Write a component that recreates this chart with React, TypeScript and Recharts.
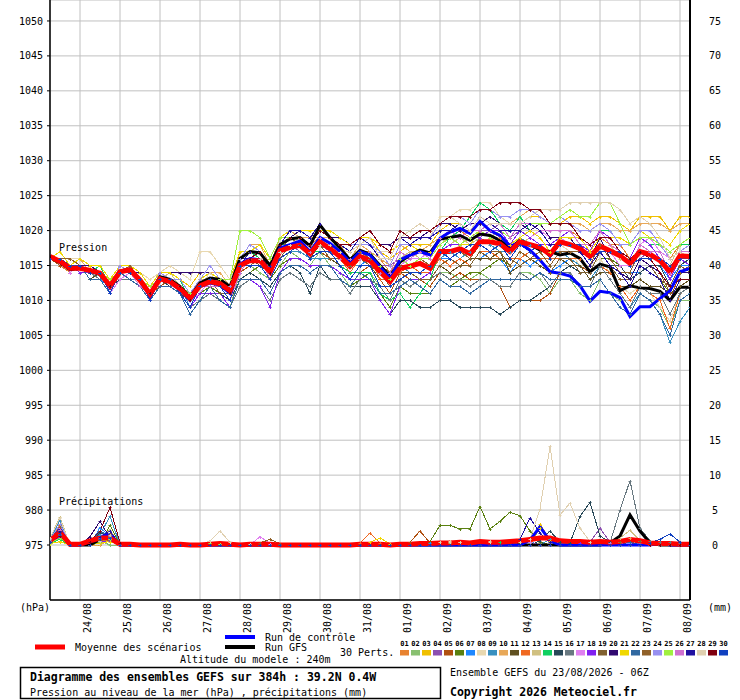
import { CartesianGrid, ComposedChart, Line, XAxis, YAxis } from 'recharts';

const FONT = '"DejaVu Sans Mono", monospace';

// 6-hourly steps from 23/08 06Z, in hours
const STEPS = [
  0, 6, 12, 18, 24, 30, 36, 42, 48, 54, 60, 66, 72, 78, 84, 90, 96, 102, 108, 114, 120, 126,
  132, 138, 144, 150, 156, 162, 168, 174, 180, 186, 192, 198, 204, 210, 216, 222, 228, 234,
  240, 246, 252, 258, 264, 270, 276, 282, 288, 294, 300, 306, 312, 318, 324, 330, 336, 342,
  348, 354, 360, 366, 372, 378, 384,
];

const DAY_TICKS = [18, 42, 66, 90, 114, 138, 162, 186, 210, 234, 258, 282, 306, 330, 354, 378];
const DAY_LABELS = [
  '24/08', '25/08', '26/08', '27/08', '28/08', '29/08', '30/08', '31/08',
  '01/09', '02/09', '03/09', '04/09', '05/09', '06/09', '07/09', '08/09',
];

const HPA_TICKS = [975, 980, 985, 990, 995, 1000, 1005, 1010, 1015, 1020, 1025, 1030, 1035, 1040, 1045, 1050];
const MM_TICKS = [0, 5, 10, 15, 20, 25, 30, 35, 40, 45, 50, 55, 60, 65, 70, 75];

// Pressure (hPa)
const P_MEAN = [
  1016.3, 1015.6, 1014.6, 1014.6, 1014.3, 1013.9, 1012.1, 1014.1, 1014.4, 1012.9, 1010.9, 1013.1, 1012.7,
  1011.7, 1010.3, 1012.1, 1012.7, 1012.4, 1011.4, 1015.0, 1015.7, 1015.7, 1014.1, 1017.1, 1017.6, 1017.9,
  1016.7, 1018.4, 1017.4, 1016.3, 1014.9, 1016.3, 1015.7, 1014.1, 1012.7, 1014.6, 1014.9, 1015.3, 1014.6,
  1017.0, 1017.0, 1017.4, 1016.7, 1018.4, 1018.4, 1018.1, 1017.0, 1018.4, 1018.0, 1017.6, 1016.6, 1018.4,
  1018.0, 1017.4, 1016.3, 1017.8, 1017.1, 1016.4, 1015.3, 1017.0, 1016.6, 1015.7, 1014.1, 1016.4, 1016.3,
];
const P_CTRL = [
  1016.3, 1015.5, 1014.5, 1014.8, 1014.2, 1013.8, 1011.8, 1014.0, 1014.5, 1012.8, 1010.6, 1013.2, 1012.6,
  1011.5, 1010.0, 1012.0, 1012.5, 1012.2, 1011.0, 1015.2, 1016.0, 1015.8, 1014.3, 1017.5, 1018.0, 1018.5,
  1017.0, 1019.0, 1018.2, 1017.0, 1015.5, 1017.0, 1016.5, 1014.8, 1013.2, 1015.8, 1016.5, 1017.0, 1016.5,
  1018.9, 1019.8, 1020.3, 1019.6, 1021.3, 1020.0, 1019.3, 1017.8, 1018.2, 1017.2, 1015.8, 1014.1, 1013.9,
  1013.5, 1012.1, 1009.9, 1011.3, 1011.1, 1010.4, 1007.7, 1009.1, 1009.1, 1010.3, 1011.4, 1014.1, 1014.6,
];
const P_GFS = [
  1016.2, 1015.4, 1014.4, 1014.6, 1014.2, 1013.7, 1011.9, 1014.2, 1014.5, 1013.0, 1011.0, 1013.4, 1013.0,
  1012.0, 1010.5, 1012.5, 1013.2, 1013.0, 1012.0, 1016.0, 1017.0, 1016.8, 1015.0, 1018.0, 1018.8, 1019.0,
  1017.8, 1020.8, 1019.0, 1017.5, 1015.8, 1017.2, 1016.6, 1015.0, 1013.5, 1015.5, 1016.5, 1017.2, 1016.8,
  1018.8, 1019.0, 1019.3, 1018.6, 1019.5, 1019.3, 1018.6, 1017.5, 1018.6, 1018.0, 1017.2, 1017.0, 1016.5,
  1016.8, 1016.0, 1014.1, 1015.2, 1014.8, 1011.4, 1012.1, 1011.8, 1011.7, 1011.3, 1010.0, 1011.9, 1011.9,
];

const P01 = [1016,1015,1014,1015,1014,1014,1012,1015,1015,1013,1011,1013,1013, 1012,1010,1013,1014,1013,1012,1016,1017,1017,1015,1018,1019,1019, 1018,1019,1018,1017,1016,1017,1017,1016,1014,1016,1017,1017,1016, 1019,1019,1020,1019,1020,1020,1019,1018,1020,1019,1020,1018,1019, 1020,1019,1017,1019,1018,1018,1016,1019,1019,1018,1016,1018,1019];
const P02 = [1016,1016,1015,1014,1014,1013,1011,1014,1013,1012,1010,1012,1012, 1011,1009,1011,1012,1011,1009,1014,1015,1014,1013,1015,1017,1016, 1015,1017,1015,1014,1012,1014,1014,1012,1012,1013,1012,1013,1013, 1014,1014,1013,1013,1014,1013,1012,1012,1014,1014,1013,1011,1013, 1013,1011,1010,1013,1011,1010,1008,1011,1010,1009,1006,1010,1010];
const P03 = [1016,1016,1016,1015,1015,1015,1013,1015,1014,1014,1012,1013,1014, 1013,1012,1014,1014,1013,1013,1017,1017,1018,1016,1019,1019,1020, 1019,1021,1019,1019,1018,1018,1019,1017,1016,1017,1018,1018,1018, 1020,1021,1021,1020,1021,1022,1021,1021,1021,1022,1022,1021,1021, 1022,1022,1021,1022,1022,1021,1020,1022,1022,1022,1020,1022,1022];
const P04 = [1016,1016,1014,1015,1014,1014,1011,1014,1014,1012,1010,1013,1013, 1011,1009,1012,1013,1011,1010,1015,1016,1016,1013,1017,1018,1017, 1016,1018,1017,1017,1016,1017,1016,1015,1015,1016,1016,1017,1017, 1018,1019,1019,1020,1020,1020,1021,1019,1020,1019,1018,1018,1018, 1017,1017,1017,1017,1017,1015,1013,1016,1017,1017,1016,1017,1016];
const P05 = [1016,1015,1015,1015,1014,1014,1012,1013,1014,1013,1011,1012,1013, 1012,1011,1012,1012,1012,1011,1014,1015,1016,1014,1016,1017,1018, 1017,1017,1016,1016,1014,1014,1015,1013,1011,1014,1013,1013,1012, 1014,1013,1014,1013,1013,1013,1012,1009,1010,1010,1010,1011,1014, 1015,1015,1014,1017,1015,1013,1013,1016,1015,1013,1010,1014,1015];
const P06 = [1016,1016,1015,1015,1013,1014,1012,1014,1013,1013,1011,1013,1012, 1011,1010,1011,1012,1011,1010,1013,1014,1015,1013,1015,1016,1016, 1015,1015,1015,1013,1012,1013,1014,1011,1009,1012,1011,1011,1011, 1013,1012,1013,1014,1014,1015,1016,1015,1017,1016,1017,1015,1017, 1017,1017,1015,1016,1016,1015,1015,1016,1015,1013,1011,1014,1014];
const P07 = [1016,1016,1015,1015,1014,1013,1012,1014,1014,1013,1012,1013,1013, 1012,1010,1012,1014,1012,1011,1014,1016,1016,1014,1018,1018,1018, 1017,1018,1018,1016,1015,1015,1016,1014,1014,1015,1015,1016,1015, 1016,1016,1015,1016,1016,1017,1016,1014,1016,1015,1016,1014,1015, 1016,1016,1014,1017,1015,1014,1014,1014,1015,1015,1013,1015,1015];
const P08 = [1016,1016,1016,1016,1015,1015,1013,1015,1015,1014,1013,1014,1015, 1014,1013,1017,1017,1015,1013,1016,1017,1016,1015,1017,1018,1018, 1017,1017,1017,1017,1016,1018,1018,1017,1017,1018,1018,1019,1019, 1022,1022,1023,1023,1024,1024,1022,1021,1021,1020,1020,1018,1018, 1017,1015,1015,1016,1014,1012,1011,1012,1011,1009,1007,1011,1012];
const P09 = [1016,1016,1015,1014,1014,1014,1012,1014,1013,1013,1010,1013,1013, 1012,1009,1012,1013,1011,1010,1015,1015,1015,1014,1016,1017,1017, 1016,1016,1016,1015,1015,1015,1015,1014,1012,1015,1014,1014,1015, 1016,1017,1016,1017,1019,1018,1017,1017,1019,1018,1017,1017,1017, 1016,1015,1013,1015,1013,1011,1009,1011,1010,1008,1004,1007,1009];
const P10 = [1016,1016,1015,1016,1014,1015,1013,1015,1015,1013,1012,1014,1013, 1013,1011,1013,1014,1014,1012,1016,1018,1018,1015,1019,1020,1019, 1019,1019,1019,1018,1016,1018,1017,1016,1015,1018,1017,1017,1018, 1019,1020,1020,1020,1020,1021,1021,1021,1022,1023,1022,1021,1022, 1021,1021,1020,1021,1021,1020,1020,1021,1021,1021,1020,1021,1021];
const P11 = [1016,1016,1015,1015,1013,1014,1012,1014,1014,1012,1011,1013,1013, 1011,1010,1012,1013,1012,1010,1015,1016,1015,1014,1016,1017,1018, 1016,1018,1016,1015,1014,1016,1015,1013,1013,1014,1014,1013,1013, 1015,1014,1015,1016,1016,1016,1017,1014,1015,1016,1015,1014,1016, 1015,1015,1013,1014,1014,1012,1012,1013,1012,1012,1011,1012,1013];
const P12 = [1016,1016,1015,1015,1014,1014,1013,1014,1014,1013,1011,1014,1013, 1012,1011,1012,1013,1013,1012,1015,1017,1016,1015,1017,1018,1019, 1018,1018,1018,1016,1014,1016,1016,1013,1013,1014,1015,1014,1014, 1016,1015,1016,1015,1017,1017,1016,1016,1016,1017,1016,1016,1016, 1016,1016,1014,1015,1014,1012,1010,1012,1011,1010,1006,1011,1012];
const P13 = [1016,1016,1015,1015,1014,1014,1012,1014,1015,1013,1011,1013,1014, 1012,1010,1013,1013,1012,1011,1016,1016,1017,1014,1018,1018,1019, 1017,1019,1017,1016,1016,1016,1017,1015,1013,1016,1017,1016,1016, 1019,1018,1019,1018,1019,1020,1020,1018,1018,1019,1020,1019,1019, 1019,1019,1017,1020,1018,1016,1016,1019,1018,1016,1015,1018,1018];
const P14 = [1016,1016,1015,1015,1014,1015,1012,1014,1014,1013,1011,1013,1013, 1013,1010,1012,1013,1013,1011,1015,1017,1016,1014,1018,1018,1018, 1017,1017,1017,1015,1014,1014,1014,1011,1010,1011,1009,1011,1013, 1017,1019,1020,1022,1024,1023,1021,1020,1022,1020,1021,1019,1019, 1020,1018,1017,1020,1020,1018,1018,1019,1018,1018,1017,1018,1018];
const P15 = [1016,1016,1015,1015,1014,1014,1012,1013,1014,1013,1010,1013,1012, 1011,1009,1011,1011,1011,1010,1013,1014,1013,1012,1014,1015,1014, 1011,1015,1013,1013,1012,1012,1012,1010,1008,1010,1010,1009,1009, 1010,1010,1009,1009,1009,1009,1008,1009,1010,1010,1011,1012,1014, 1015,1014,1014,1015,1015,1015,1013,1014,1015,1015,1012,1015,1016];
const P16 = [1016,1016,1015,1015,1014,1013,1011,1013,1013,1012,1010,1012,1012, 1011,1009,1010,1011,1010,1009,1012,1013,1012,1010,1013,1014,1013, 1012,1014,1013,1013,1011,1013,1013,1012,1010,1013,1012,1013,1013, 1014,1013,1013,1012,1013,1013,1012,1012,1014,1013,1014,1012,1014, 1014,1012,1012,1015,1013,1011,1009,1012,1011,1011,1008,1011,1012];
const P17 = [1016,1016,1014,1015,1014,1014,1011,1013,1014,1013,1010,1013,1013, 1012,1010,1011,1013,1012,1010,1015,1016,1016,1013,1017,1019,1018, 1018,1018,1018,1017,1015,1017,1016,1015,1014,1015,1016,1016,1017, 1018,1019,1018,1019,1020,1019,1020,1018,1020,1019,1020,1019,1019, 1018,1018,1016,1017,1017,1015,1015,1018,1019,1017,1016,1017,1016];
const P18 = [1016,1016,1015,1014,1014,1014,1011,1014,1014,1012,1010,1012,1012, 1011,1009,1011,1011,1011,1009,1013,1013,1012,1009,1014,1016,1016, 1015,1015,1015,1014,1013,1013,1013,1010,1008,1012,1013,1013,1014, 1017,1018,1018,1019,1019,1020,1020,1018,1020,1019,1018,1018,1019, 1020,1018,1017,1020,1019,1017,1016,1019,1018,1016,1013,1016,1015];
const P19 = [1016,1016,1015,1015,1014,1014,1012,1014,1014,1013,1011,1013,1013, 1012,1010,1012,1013,1011,1011,1015,1015,1016,1014,1016,1018,1018, 1017,1018,1016,1016,1015,1016,1015,1014,1012,1013,1014,1013,1013, 1015,1016,1015,1015,1017,1016,1016,1016,1015,1016,1016,1014,1016, 1016,1014,1014,1017,1015,1013,1013,1016,1015,1013,1012,1015,1014];
const P20 = [1016,1016,1015,1015,1015,1014,1013,1014,1014,1014,1012,1014,1014, 1014,1014,1014,1014,1013,1012,1016,1016,1016,1015,1018,1019,1020, 1019,1020,1019,1019,1018,1019,1020,1018,1018,1019,1019,1019,1020, 1021,1021,1020,1021,1021,1022,1021,1019,1021,1020,1021,1019,1019, 1019,1017,1016,1019,1016,1014,1013,1016,1015,1014,1011,1014,1014];
const P21 = [1016,1017,1015,1016,1015,1015,1013,1015,1015,1014,1012,1014,1014, 1013,1011,1013,1014,1013,1012,1017,1017,1018,1016,1019,1020,1020, 1020,1020,1020,1019,1018,1019,1019,1018,1017,1018,1018,1017,1017, 1018,1019,1018,1018,1020,1019,1018,1018,1019,1020,1019,1017,1019, 1019,1019,1017,1019,1019,1019,1018,1020,1019,1019,1018,1020,1021];
const P22 = [1016,1016,1015,1015,1013,1013,1011,1014,1013,1012,1010,1012,1012, 1011,1008,1010,1012,1010,1009,1013,1013,1013,1011,1014,1015,1015, 1014,1015,1015,1013,1012,1014,1013,1011,1011,1012,1013,1012,1011, 1013,1012,1012,1011,1012,1013,1013,1013,1013,1013,1014,1013,1013, 1013,1012,1012,1013,1011,1009,1008,1011,1010,1008,1005,1010,1011];
const P23 = [1016,1016,1016,1015,1014,1014,1012,1014,1015,1013,1011,1013,1013, 1012,1011,1012,1013,1012,1012,1015,1016,1017,1014,1017,1019,1018, 1017,1018,1018,1016,1016,1017,1016,1015,1014,1015,1015,1016,1015, 1017,1016,1017,1016,1018,1017,1017,1015,1017,1016,1017,1015,1017, 1017,1017,1015,1018,1016,1014,1014,1017,1016,1014,1011,1014,1015];
const P24 = [1016,1016,1015,1015,1014,1014,1012,1015,1014,1013,1011,1014,1013, 1013,1011,1013,1015,1013,1012,1016,1018,1017,1015,1018,1020,1020, 1019,1021,1019,1018,1018,1018,1018,1017,1015,1018,1018,1019,1019, 1021,1022,1022,1021,1023,1023,1022,1022,1023,1023,1022,1021,1022, 1021,1020,1020,1021,1020,1018,1018,1020,1020,1018,1016,1017,1018];
const P25 = [1016,1016,1015,1015,1014,1014,1013,1014,1014,1013,1012,1013,1013, 1012,1011,1012,1013,1013,1013,1020,1020,1019,1016,1019,1019,1019, 1018,1020,1019,1017,1016,1016,1017,1015,1013,1016,1015,1016,1016, 1018,1019,1018,1019,1020,1019,1020,1019,1021,1021,1021,1021,1022, 1023,1022,1022,1024,1024,1021,1018,1019,1019,1018,1017,1018,1019];
const P26 = [1016,1016,1015,1015,1014,1014,1012,1014,1014,1012,1011,1013,1013, 1011,1009,1012,1012,1012,1010,1014,1016,1016,1013,1017,1018,1018, 1017,1019,1017,1016,1016,1016,1017,1014,1014,1017,1016,1017,1016, 1019,1020,1019,1020,1020,1021,1021,1019,1021,1021,1020,1020,1020, 1020,1018,1018,1020,1018,1017,1015,1018,1017,1017,1014,1017,1017];
const P27 = [1016,1016,1015,1015,1014,1014,1012,1014,1014,1013,1011,1013,1013, 1012,1010,1012,1013,1012,1011,1015,1017,1017,1015,1018,1020,1020, 1019,1021,1019,1018,1017,1019,1018,1016,1016,1019,1018,1019,1019, 1020,1020,1021,1020,1022,1021,1020,1020,1020,1021,1020,1018,1018, 1018,1017,1015,1017,1015,1014,1012,1015,1014,1013,1010,1013,1013];
const P28 = [1016,1016,1015,1015,1014,1014,1012,1014,1014,1013,1011,1013,1013, 1012,1010,1012,1014,1012,1011,1015,1016,1016,1014,1017,1018,1019, 1018,1018,1018,1017,1017,1018,1019,1016,1016,1019,1020,1021,1020, 1021,1022,1021,1020,1022,1021,1021,1021,1021,1022,1023,1023,1023, 1024,1024,1024,1024,1024,1023,1021,1022,1021,1019,1016,1017,1016];
const P29 = [1016,1016,1015,1015,1014,1014,1012,1014,1014,1013,1011,1013,1013, 1012,1010,1012,1013,1012,1011,1015,1016,1017,1014,1018,1019,1019, 1018,1020,1019,1018,1018,1019,1020,1018,1017,1020,1019,1020,1020, 1021,1022,1022,1022,1023,1023,1024,1024,1024,1023,1023,1021,1021, 1021,1019,1018,1019,1019,1017,1016,1017,1016,1014,1012,1013,1013];
const P30 = [1016,1016,1015,1015,1014,1014,1011,1014,1014,1013,1010,1013,1013, 1011,1009,1012,1013,1012,1010,1015,1015,1015,1013,1016,1017,1018, 1016,1017,1017,1015,1013,1015,1015,1012,1012,1013,1014,1014,1015, 1017,1016,1017,1018,1018,1017,1018,1016,1018,1017,1018,1016,1018, 1018,1018,1016,1017,1017,1017,1015,1016,1016,1016,1015,1016,1016];

// Precipitation (mm per 6h): mean as a full series
const R_MEAN = [
  0.6, 1.8, 0.1, 0.1, 0.6, 1.0, 1.0, 0.1, 0.1, 0.0, 0.0, 0.0, 0.0,
  0.1, 0.0, 0.0, 0.1, 0.2, 0.1, 0.0, 0.1, 0.1, 0.1, 0.0, 0.0, 0.0,
  0.0, 0.0, 0.0, 0.0, 0.0, 0.1, 0.1, 0.1, 0.0, 0.1, 0.1, 0.2, 0.2,
  0.3, 0.3, 0.4, 0.3, 0.5, 0.4, 0.4, 0.5, 0.6, 0.8, 1.0, 1.0, 0.6,
  0.5, 0.5, 0.4, 0.5, 0.4, 0.5, 0.8, 0.6, 0.3, 0.2, 0.2, 0.1, 0.1,
];
// members, control and GFS: [step index, mm]; dry steps are 0
const R_CTRL = [[0, 0.5], [1, 2.2], [4, 0.5], [5, 1.2], [6, 1.5], [48, 0.7], [49, 2.6], [50, 0.6], [61, 0.3]];
const R_GFS = [[0, 0.5], [1, 1.8], [5, 0.8], [6, 1.2], [56, 0.3], [57, 1.3], [58, 4.3], [59, 2.0], [60, 0.3]];
const R01 = [[0, 0.6], [1, 2.0], [5, 0.5], [6, 0.8]];
const R02 = [[0, 0.4], [1, 1.5], [5, 0.6], [17, 0.2], [40, 0.3]];
const R03 = [[0, 0.5], [1, 1.0], [6, 1.0], [49, 3.0], [50, 0.8]];
const R04 = [[0, 0.7], [1, 2.5], [4, 0.4], [5, 1.0], [6, 1.2], [54, 0.4], [55, 2.4], [56, 0.4]];
const R05 = [[0, 0.5], [1, 1.8], [5, 0.8], [6, 1.6], [36, 0.4], [37, 2.0], [38, 0.3]];
const R06 = [[0, 0.4], [1, 1.2], [6, 2.9], [38, 0.5], [39, 2.8], [40, 2.8], [41, 2.3], [42, 2.3], [43, 5.5], [44, 2.3], [45, 3.4], [46, 4.7], [47, 4.2], [48, 2.0], [49, 0.5]];
const R07 = [[0, 0.8], [1, 3.0], [5, 2.5], [6, 1.2], [38, 0.3], [48, 0.5]];
const R08 = [[0, 0.5], [1, 2.2], [5, 0.5], [6, 2.0], [40, 0.6], [41, 0.4], [44, 0.4]];
const R09 = [[0, 0.9], [1, 3.5], [5, 1.5], [6, 4.1], [50, 0.8]];
const R10 = [[0, 0.4], [1, 1.6], [6, 0.8], [57, 0.5], [58, 1.0]];
const R11 = [[0, 0.3], [1, 1.0], [5, 0.5], [6, 1.0], [47, 0.3]];
const R12 = [[0, 0.7], [1, 2.8], [5, 0.6], [6, 0.9], [31, 0.3], [32, 1.7], [33, 0.3]];
const R13 = [[0, 1.0], [1, 4.0], [5, 0.8], [6, 2.2], [57, 1.0], [58, 2.1], [59, 0.6]];
const R14 = [[0, 0.3], [1, 0.8], [5, 0.6], [6, 1.5], [16, 0.3], [45, 0.5]];
const R15 = [[0, 0.5], [1, 1.5], [5, 1.8], [6, 1.0], [49, 0.6], [50, 2.0], [51, 0.4], [52, 0.3], [53, 4.1], [54, 6.1], [55, 1.3], [56, 0.4]];
const R16 = [[0, 0.6], [1, 2.0], [5, 0.5], [6, 0.7], [56, 0.3], [57, 5.0], [58, 9.2], [59, 2.4], [60, 0.6], [61, 0.4], [62, 0.4], [63, 0.3]];
const R17 = [[0, 0.6], [1, 2.5], [5, 0.6], [6, 1.0], [21, 1.2], [22, 0.2], [48, 0.4]];
const R18 = [[0, 0.3], [1, 1.2], [5, 0.4], [6, 0.6], [53, 0.3]];
const R19 = [[0, 0.5], [1, 1.8], [5, 0.5], [6, 1.3], [59, 0.6]];
const R20 = [[0, 0.6], [1, 2.0], [4, 1.2], [5, 3.4], [6, 1.0]];
const R21 = [[0, 0.2], [1, 0.5], [5, 0.3], [6, 0.5], [32, 0.4], [33, 1.0], [34, 0.2], [49, 2.4], [50, 0.6]];
const R22 = [[0, 0.4], [1, 1.4], [5, 2.0], [6, 1.2], [58, 0.5]];
const R23 = [[0, 0.7], [1, 2.6], [5, 0.7], [6, 1.1], [21, 0.3], [22, 0.8], [23, 0.2], [57, 0.4]];
const R24 = [[0, 0.8], [1, 3.0], [5, 0.6], [6, 1.0]];
const R25 = [[0, 0.3], [1, 1.0], [5, 0.5], [6, 0.8], [16, 0.3], [17, 0.2]];
const R26 = [[0, 0.6], [1, 2.2], [5, 1.1], [6, 1.3], [56, 0.3]];
const R27 = [[0, 0.5], [1, 1.8], [5, 1.2], [6, 2.0], [47, 0.8], [48, 3.9], [49, 1.7], [50, 0.4]];
const R28 = [[0, 1.0], [1, 3.8], [5, 0.6], [6, 1.4], [16, 0.6], [17, 2.0], [18, 0.4], [20, 0.2], [39, 0.4], [40, 0.5], [41, 0.4], [44, 0.6], [47, 0.4], [48, 0.8], [49, 5.2], [50, 14.1], [51, 4.3], [52, 6.0], [53, 2.4], [54, 0.5]];
const R29 = [[0, 0.4], [1, 1.3], [4, 0.5], [5, 2.0], [6, 5.4], [7, 0.3]];
const R30 = [[0, 0.5], [1, 1.6], [5, 0.9], [6, 1.0], [60, 0.3], [61, 0.8], [62, 1.6], [63, 0.4]];

const MEMBERS = [
  { id: '01', color: '#e8822f', p: P01, r: R01 },
  { id: '02', color: '#88c070', p: P02, r: R02 },
  { id: '03', color: '#f0c000', p: P03, r: R03 },
  { id: '04', color: '#8c50b0', p: P04, r: R04 },
  { id: '05', color: '#b05010', p: P05, r: R05 },
  { id: '06', color: '#5a8010', p: P06, r: R06 },
  { id: '07', color: '#1e88ff', p: P07, r: R07 },
  { id: '08', color: '#e8d8b0', p: P08, r: R08 },
  { id: '09', color: '#3890c0', p: P09, r: R09 },
  { id: '10', color: '#e8a858', p: P10, r: R10 },
  { id: '11', color: '#605020', p: P11, r: R11 },
  { id: '12', color: '#f06820', p: P12, r: R12 },
  { id: '13', color: '#d0c080', p: P13, r: R13 },
  { id: '14', color: '#10d060', p: P14, r: R14 },
  { id: '15', color: '#284858', p: P15, r: R15 },
  { id: '16', color: '#687880', p: P16, r: R16 },
  { id: '17', color: '#e080f0', p: P17, r: R17 },
  { id: '18', color: '#8020f0', p: P18, r: R18 },
  { id: '19', color: '#806030', p: P19, r: R19 },
  { id: '20', color: '#300870', p: P20, r: R20 },
  { id: '21', color: '#f0d800', p: P21, r: R21 },
  { id: '22', color: '#3068a0', p: P22, r: R22 },
  { id: '23', color: '#906028', p: P23, r: R23 },
  { id: '24', color: '#9890f0', p: P24, r: R24 },
  { id: '25', color: '#a0f040', p: P25, r: R25 },
  { id: '26', color: '#d070d0', p: P26, r: R26 },
  { id: '27', color: '#2010a0', p: P27, r: R27 },
  { id: '28', color: '#e0d0b0', p: P28, r: R28 },
  { id: '29', color: '#800010', p: P29, r: R29 },
  { id: '30', color: '#1040c0', p: P30, r: R30 },
];

function rainAt(peaks: number[][], i: number) {
  const hit = peaks.find((pk) => pk[0] === i);
  return hit ? hit[1] : 0;
}

const rows = STEPS.map((t, i) => {
  const row: Record<string, number> = {
    t,
    pMean: P_MEAN[i],
    pCtrl: P_CTRL[i],
    pGfs: P_GFS[i],
    rMean: R_MEAN[i],
    rCtrl: rainAt(R_CTRL, i),
    rGfs: rainAt(R_GFS, i),
  };
  MEMBERS.forEach((m) => {
    row['p' + m.id] = m.p[i];
    row['r' + m.id] = rainAt(m.r, i);
  });
  return row;
});

// small "+" marker used on member curves
const cross = (color: string) => (props: any) => {
  const { cx, cy, index } = props;
  if (cx == null || cy == null) return <g key={index} />;
  return (
    <path
      key={index}
      d={`M${Math.round(cx) - 1.5} ${Math.round(cy) + 0.5}h3M${Math.round(cx) + 0.5} ${Math.round(cy) - 1}v3`}
      stroke={color}
      strokeWidth={1}
      fill="none"
    />
  );
};

const DateTick = (props: any) => {
  const { x, payload } = props;
  const label = DAY_LABELS[DAY_TICKS.indexOf(payload.value)] ?? '';
  const bx = x + 11;
  return (
    <text
      x={bx}
      y={603}
      transform={`rotate(-90 ${bx} 603)`}
      textAnchor="end"
      fontSize={10}
      fontFamily={FONT}
      fill="#000"
    >
      {label}
    </text>
  );
};

const MmTick = (props: any) => {
  const { y, payload } = props;
  return (
    <text x={715} y={y} dy="0.355em" textAnchor="middle" fontSize={10} fontFamily={FONT} fill="#000">
      {payload.value}
    </text>
  );
};

const txt = { fontFamily: FONT, fontSize: 10, fill: '#000' } as const;

export default function App() {
  return (
    <div style={{ position: 'relative', width: 740, height: 700, background: '#fff' }}>
      <style>{'body{margin:0;background:#fff}'}</style>
      <ComposedChart width={740} height={700} data={rows} margin={{ top: 0, right: 0, bottom: 0, left: 0 }}>
        <CartesianGrid yAxisId="p" stroke="#c0c0c0" strokeWidth={1} />
        <XAxis
          dataKey="t"
          type="number"
          domain={[0, 384]}
          ticks={DAY_TICKS}
          height={100}
          tick={<DateTick />}
          tickLine={false}
          axisLine={{ stroke: '#000', strokeWidth: 1.5 }}
          interval={0}
          allowDataOverflow
        />
        <YAxis
          yAxisId="p"
          orientation="left"
          width={50}
          domain={[967.13, 1053.0]}
          ticks={HPA_TICKS}
          interval={0}
          allowDataOverflow
          tickSize={3}
          tickMargin={4}
          tickLine={{ stroke: '#000' }}
          axisLine={{ stroke: '#000', strokeWidth: 1.5 }}
          tick={{ fontSize: 10, fontFamily: FONT, fill: '#000' }}
        />
        <YAxis
          yAxisId="r"
          orientation="right"
          width={50}
          domain={[-7.87, 78.0]}
          ticks={MM_TICKS}
          interval={0}
          allowDataOverflow
          tickLine={false}
          axisLine={{ stroke: '#000', strokeWidth: 2 }}
          tick={<MmTick />}
        />

        {MEMBERS.map((m) => (
          <Line
            key={'r' + m.id}
            yAxisId="r"
            dataKey={'r' + m.id}
            stroke={m.color}
            strokeWidth={1}
            shapeRendering="crispEdges"
            dot={cross(m.color)}
            activeDot={false}
            isAnimationActive={false}
          />
        ))}
        {MEMBERS.map((m) => (
          <Line
            key={'p' + m.id}
            yAxisId="p"
            dataKey={'p' + m.id}
            stroke={m.color}
            strokeWidth={1}
            shapeRendering="crispEdges"
            dot={cross(m.color)}
            activeDot={false}
            isAnimationActive={false}
          />
        ))}

        <Line yAxisId="r" dataKey="rGfs" stroke="#000" strokeWidth={3} dot={false} isAnimationActive={false} />
        <Line yAxisId="r" dataKey="rCtrl" stroke="#0000ff" strokeWidth={3} dot={false} isAnimationActive={false} />
        <Line yAxisId="r" dataKey="rMean" stroke="#ff0000" strokeWidth={5} dot={false} isAnimationActive={false} />
        <Line yAxisId="p" dataKey="pGfs" stroke="#000" strokeWidth={3} dot={false} isAnimationActive={false} />
        <Line yAxisId="p" dataKey="pCtrl" stroke="#0000ff" strokeWidth={3} dot={false} isAnimationActive={false} />
        <Line yAxisId="p" dataKey="pMean" stroke="#ff0000" strokeWidth={5} dot={false} isAnimationActive={false} />
      </ComposedChart>

      <svg
        width={740}
        height={700}
        style={{ position: 'absolute', left: 0, top: 0, pointerEvents: 'none' }}
      >
        <text x={59} y={251} {...txt}>Pression</text>
        <text x={59} y={505} {...txt}>Précipitations</text>
        <text x={20} y={611} {...txt}>(hPa)</text>
        <text x={708} y={611} {...txt}>(mm)</text>

        <line x1={35} x2={65} y1={647} y2={647} stroke="#ff0000" strokeWidth={5} />
        <text x={75} y={651} {...txt}>Moyenne des scénarios</text>
        <line x1={225} x2={255} y1={637} y2={637} stroke="#0000ff" strokeWidth={4} />
        <text x={265} y={641} {...txt}>Run de contrôle</text>
        <line x1={225} x2={255} y1={647} y2={647} stroke="#000" strokeWidth={4} />
        <text x={265} y={651} {...txt}>Run GFS</text>
        <text x={340} y={656} {...txt}>30 Perts.</text>
        {MEMBERS.map((m, k) => (
          <g key={m.id}>
            <text
              x={404.5 + 11 * k}
              y={645.5}
              textAnchor="middle"
              fontFamily={FONT}
              fontSize={7}
              fontWeight="bold"
              fill="#000"
            >
              {m.id}
            </text>
            <rect x={400 + 11 * k} y={650} width={9} height={5.5} fill={m.color} />
          </g>
        ))}
        <text x={180} y={663} {...txt}>Altitude du modele : 240m</text>

        <rect x={20.5} y={667.5} width={420} height={31} fill="none" stroke="#000" strokeWidth={1.5} />
        <text x={30} y={681} fontFamily={FONT} fontSize={11.5} fontWeight="bold" fill="#000">
          Diagramme des ensembles GEFS sur 384h : 39.2N 0.4W
        </text>
        <text x={30} y={696} {...txt}>Pression au niveau de la mer (hPa) , précipitations (mm)</text>
        <text x={450} y={676} {...txt}>Ensemble GEFS du 23/08/2026 - 06Z</text>
        <text x={450} y={696} fontFamily={FONT} fontSize={11.5} fontWeight="bold" fill="#000">
          Copyright 2026 Meteociel.fr
        </text>
      </svg>
    </div>
  );
}
